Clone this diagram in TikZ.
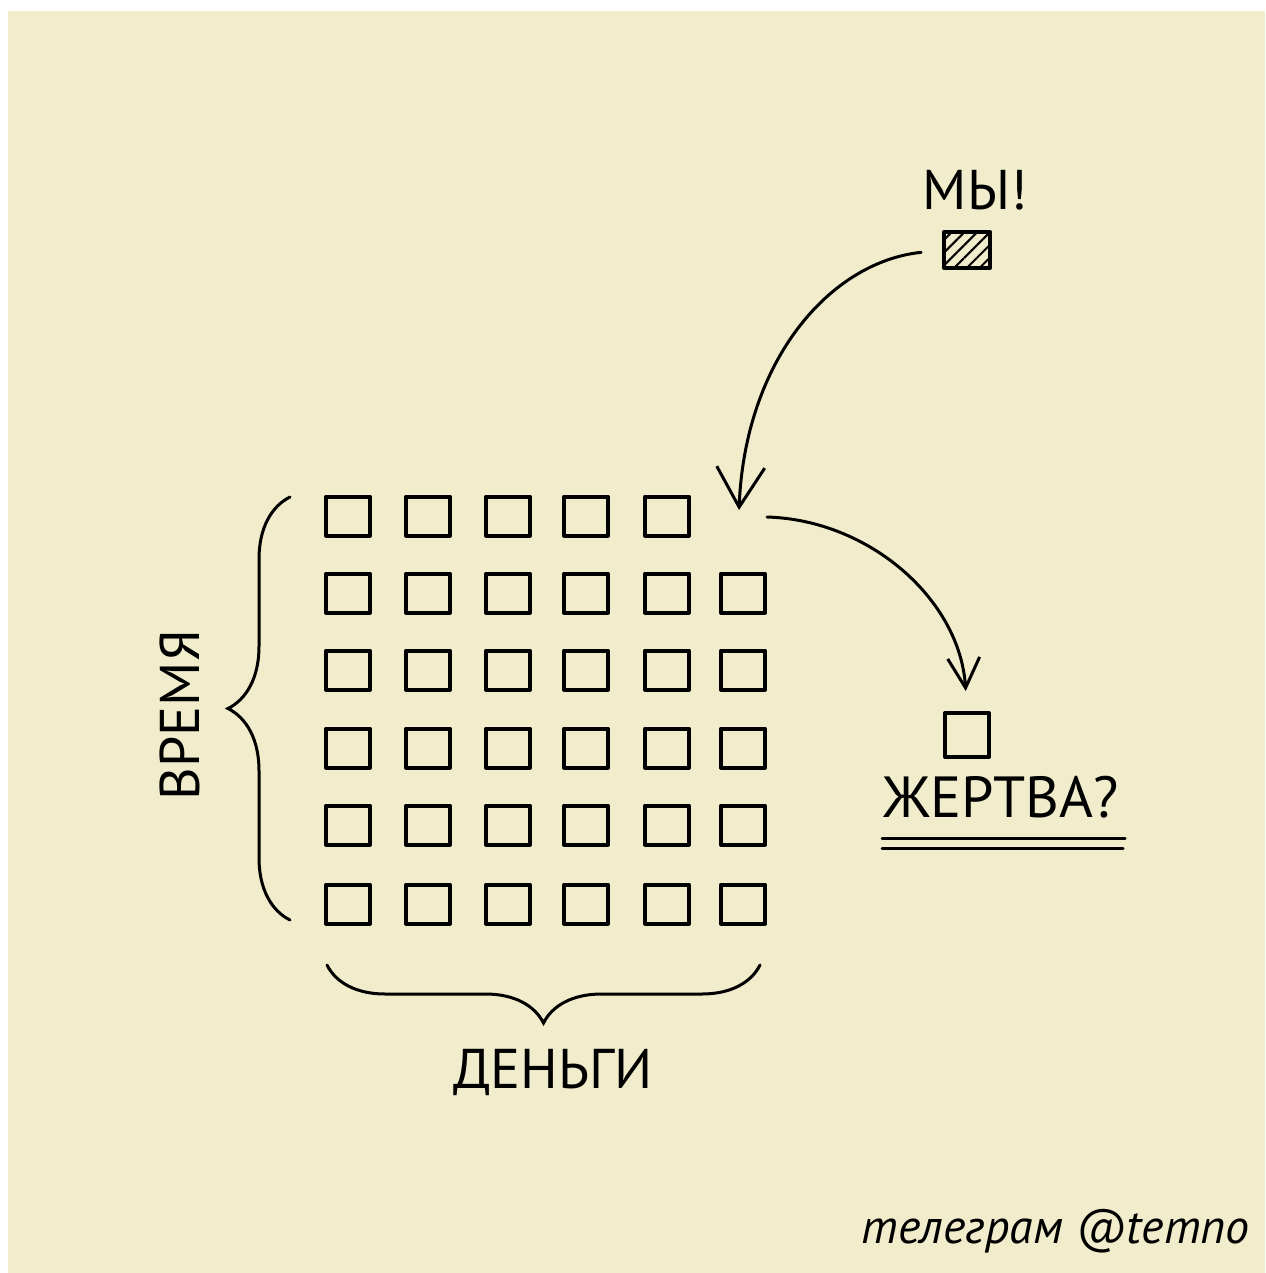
\documentclass[tikz,border=0pt]{standalone}
\usepackage{fontspec}
\setmainfont{PT Sans}
\usetikzlibrary{positioning,arrows.meta,decorations.pathreplacing,patterns.meta}
\definecolor{paper}{RGB}{241,236,203}

\begin{document}
\begin{tikzpicture}[
  x=0.5pt, y=-0.5pt,
  cell/.style={draw, line width=2pt, line join=round, minimum width=22pt, minimum height=19.5pt, inner sep=0pt},
  lbl/.style={font=\fontsize{28}{30}\selectfont, inner sep=0pt},
  curve/.style={line width=1.5pt, line cap=round},
  brace/.style={decorate, decoration={brace, amplitude=29pt}, line width=1.5pt, line cap=round},
  >={Straight Barb[length=20pt,width=24pt,line width=1.5pt]},
]
  \useasboundingbox (0,0) rectangle (1265,1273);
  \fill[white] (0,0) rectangle (1265,1273);
  \fill[paper] (8,11) rectangle (1265,1273);

  % 6x6 grid, one place left empty in the top row
  \foreach \r/\y in {1/516,2/593,3/670,4/748,5/825,6/904}
    \foreach \c/\x in {1/348,2/428,3/508,4/586,5/667,6/743}{
      \ifnum\r\c=16 \else \node[cell] (c\r\c) at (\x,\y) {}; \fi
    }

  \node[cell, pattern={Lines[angle=45,distance=4.5pt,line width=1pt]}, minimum width=23pt, minimum height=18pt] (me) at (967,250) {};
  \node[lbl, above=10pt of me, xshift=4pt] (melbl) {МЫ!};

  \node[cell, minimum width=22pt, minimum height=22pt] (victim) at (967,735) {};
  \node[lbl, font=\fontsize{29}{31}\selectfont] (victimlbl) at (1001,797) {ЖЕРТВА?};
  \draw[curve] (882,838) -- (1125,838);
  \draw[curve] (882,848) -- (1123,848);

  \coordinate (drop) at (739,510);
  \coordinate (exit) at (767,517);
  \draw[curve, ->, shorten <=11pt] (me.west) .. controls (830,262) and (745,360) .. (drop);
  \draw[curve, -{Straight Barb[length=15pt,width=16pt,line width=1.5pt]}, shorten >=10pt]
    (exit) .. controls (870,520) and (960,600) .. (victim.north);

  % braces
  \draw[brace, decoration={amplitude=31pt}] (290,920) -- (290,497);
  \draw[brace, decoration={mirror}] (327,965) -- (760,965);
  \node[lbl, rotate=90] (time) at (180,715) {ВРЕМЯ};
  \node[lbl] (money) at (553,1072) {ДЕНЬГИ};

  \node[font=\itshape\fontsize{24}{26}\selectfont, anchor=base east, inner sep=0pt] (tg) at (1250,1243) {телеграм @temno};
\end{tikzpicture}
\end{document}
